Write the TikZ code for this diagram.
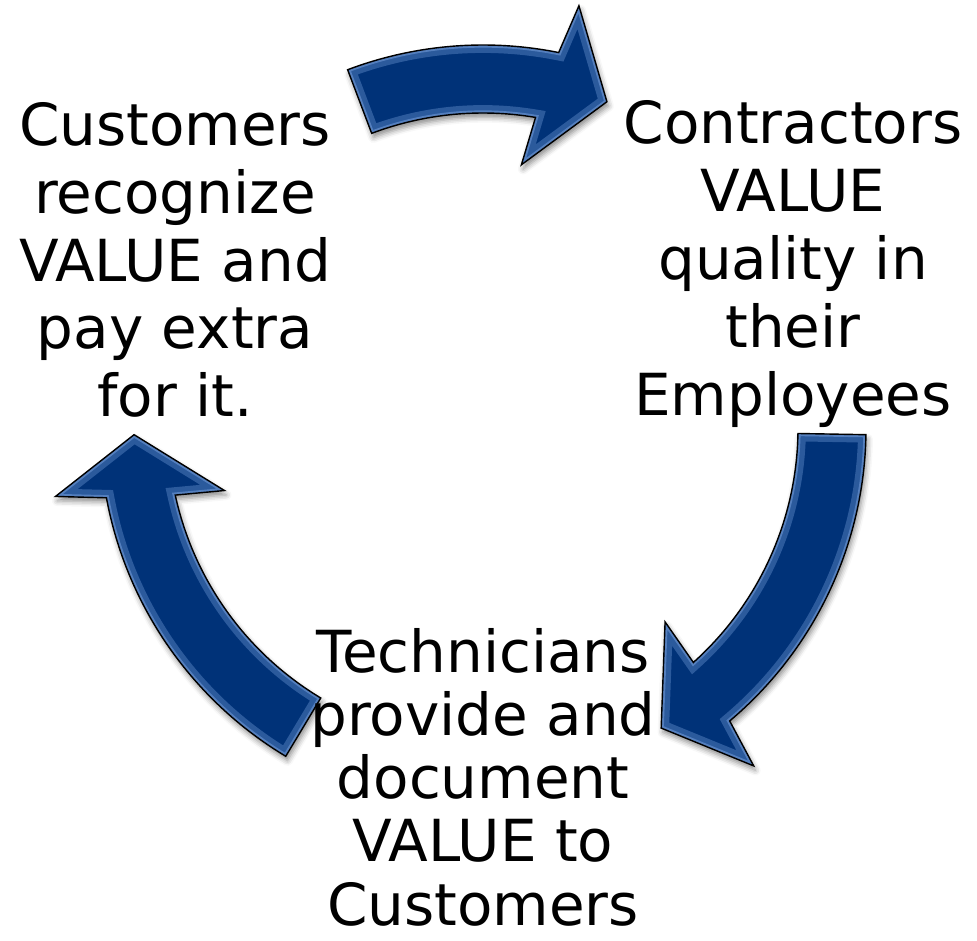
\documentclass[tikz,border=0pt]{standalone}
\usepackage{fontspec}
\setmainfont{DejaVu Sans}
\usetikzlibrary{shadows.blur}
\definecolor{arrowblue}{RGB}{0,50,120}
\definecolor{rimblue}{RGB}{125,165,225}
\newcommand{\cyclearrow}[2]{(#1:383) arc[start angle=#1, end angle={#2+9.4}, radius=383] -- ({#2+8}:433) -- (#2:349) -- ({#2+12.5}:266) -- ({#2+11.2}:315) arc[start angle={#2+11.2}, end angle=#1, radius=315] -- cycle}
\tikzset{
    label text/.style={font=\fontsize{33}{38.6}\selectfont, align=center, inner sep=0pt},
    arrow body/.style={fill=arrowblue, blur shadow={shadow xshift=1pt, shadow yshift=-2.5pt, shadow blur radius=3pt, shadow opacity=45}},
    arrow rim/.style={draw=rimblue, line width=9pt, opacity=0.35},
}
\begin{document}
\begin{tikzpicture}[x=0.02cm, y=0.02cm]
        \useasboundingbox (0, 0) rectangle (977, 940);
        \begin{scope}[shift={(483, 512)}]
            \foreach \a/\c in {110.7/69.2, -1/-59.3, 239/181.1} {
                \path[arrow body] \cyclearrow{\a}{\c};
                \begin{scope}
                    \clip \cyclearrow{\a}{\c};
                    \draw[arrow rim] \cyclearrow{\a}{\c};
                    \draw[arrow rim, line width=3pt, opacity=0.5] \cyclearrow{\a}{\c};
                \end{scope}
                \draw[thick] \cyclearrow{\a}{\c};
            }
        \end{scope}

        \node[label text] (cust) at (175, 680) {Customers\\recognize\\VALUE and\\pay extra\\for it.};
        \node[label text] (contr) at (793, 676) {Contractors\\VALUE\\quality in\\their\\Employees};
        \node[label text, font=\fontsize{33}{36}\selectfont] (tech) at (483, 163) {Technicians\\provide and\\document\\VALUE to\\Customers};
    \end{tikzpicture}
\end{document}
